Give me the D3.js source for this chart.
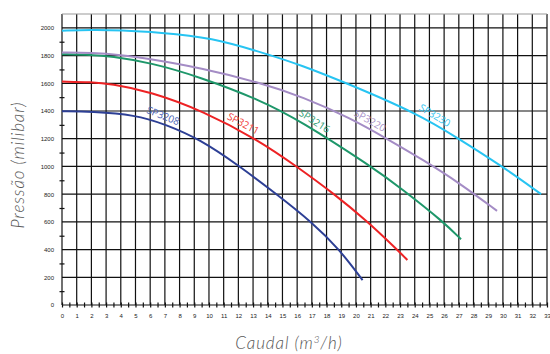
<!DOCTYPE html>
<html><head><meta charset="utf-8">
<script src="https://cdn.jsdelivr.net/npm/d3@7"></script>
<style>body{margin:0;background:#fff}</style>
</head><body><svg id="c" width="550" height="354"></svg>
<script>
// ---- data ----
const xTickValues = d3.range(0, 34);            // 0..33 m3/h
const yTickValues = d3.range(0, 2001, 200);     // 0..2000 mbar
const seriesNames = ["SP3208", "SP3211", "SP3216", "SP3220", "SP3230"];
const sp3208 = [[0,1398],[2,1396],[5,1372],[7,1305],[9.4,1195],[12,1008],[14.6,800],[17,598],[18.85,405],[20.45,180]];
const sp3211 = [[0,1612],[2,1608],[3.3,1596],[6,1540],[9.6,1400],[13.35,1191],[15.97,1000],[18.6,795],[20.7,610],[22.7,410],[23.5,325]];
const sp3216 = [[0,1810],[2,1806],[3.3,1795],[6,1750],[9.4,1645],[13.47,1480],[16.2,1330],[21.07,998],[23.1,840],[25.94,601],[27.15,474]];
const sp3220 = [[0,1822],[2,1820],[4,1805],[6,1775],[9.4,1712],[13.47,1605],[16.4,1500],[19.6,1350],[22.1,1200],[24.6,1045],[27.07,878],[29.6,679]];
const sp3230 = [[0,1980],[2,1985],[4,1983],[6.67,1966],[10.07,1933],[14.15,1805],[16.2,1733],[19.4,1600],[24.2,1380],[26.85,1210],[30,998],[32.6,800]];
const seriesData = [sp3208, sp3211, sp3216, sp3220, sp3230];
const labelFlow = [6.7, 12.1, 16.9, 20.7, 25.1];   // flow where each label sits on its curve

// ---- style ----
const lineColors  = ["#2d3f95", "#ed2224", "#1e976a", "#a48cc5", "#27c4f2"];
const labelColors = ["#4a5fb5", "#f03a36", "#2a9a70", "#a892c9", "#2ec4f0"];

const svg = d3.select("#c");
const x = d3.scaleLinear().domain([0, 33]).range([62, 547]);
const y = d3.scaleLinear().domain([0, 2100]).range([305, 14]);

// grid
const g = svg.append("g");
g.selectAll("line.v").data(xTickValues).join("line")
  .attr("x1", d => x(d)).attr("x2", d => x(d))
  .attr("y1", y(0)).attr("y2", y(2100))
  .attr("stroke", "#111").attr("stroke-width", 1.2);
g.selectAll("line.h").data(yTickValues.concat([2100])).join("line")
  .attr("x1", x(0)).attr("x2", x(33))
  .attr("y1", d => y(d)).attr("y2", d => y(d))
  .attr("stroke", d => d === 2100 ? "#999" : "#111").attr("stroke-width", 1.2);

// y axis labels
const yAxis = svg.append("g").attr("transform", `translate(${x(0)},0)`)
  .call(d3.axisLeft(y).tickValues(yTickValues).tickSize(0).tickPadding(8).tickFormat(d3.format("d")));
yAxis.select(".domain").remove();
yAxis.selectAll("text").attr("font-family", "Liberation Sans, Arial, sans-serif").attr("font-size", 6).attr("fill", "#222");

// y minor ticks
const yMinor = d3.range(100, 2100, 200);
[d3.axisLeft(y), d3.axisRight(y)].forEach(ax => {
  const a = svg.append("g").attr("transform", `translate(${x(0)},0)`)
    .call(ax.tickValues(yMinor).tickSize(2.5).tickFormat(""));
  a.select(".domain").remove();
  a.selectAll("line").attr("stroke", "#111").attr("stroke-width", 1.2);
});

// x axis labels
const xAxis = svg.append("g").attr("transform", `translate(0,${y(0)})`)
  .call(d3.axisBottom(x).tickValues(xTickValues).tickSize(0).tickPadding(9).tickFormat(d3.format("d")));
xAxis.select(".domain").remove();
xAxis.selectAll("text").attr("font-family", "Liberation Sans, Arial, sans-serif").attr("font-size", 6).attr("fill", "#222");

// x minor ticks
const xMinor = d3.range(0, 33.01, 0.5);
[d3.axisBottom(x), d3.axisTop(x)].forEach(ax => {
  const a = svg.append("g").attr("transform", `translate(0,${y(0)})`)
    .call(ax.tickValues(xMinor).tickSize(2.5).tickFormat(""));
  a.select(".domain").remove();
  a.selectAll("line").attr("stroke", "#111").attr("stroke-width", 1.2);
});

// curves
const line = d3.line().x(d => x(d[0])).y(d => y(d[1])).curve(d3.curveBasis);
svg.selectAll("path.curve").data(seriesData).join("path")
  .attr("class", "curve")
  .attr("d", line).attr("fill", "none")
  .attr("stroke", (d, i) => lineColors[i]).attr("stroke-width", 2);

// labels along curves
function valueAt(data, q) {
  for (let i = 1; i < data.length; i++) {
    if (q <= data[i][0]) {
      const t = (q - data[i-1][0]) / (data[i][0] - data[i-1][0]);
      return data[i-1][1] + t * (data[i][1] - data[i-1][1]);
    }
  }
  return data[data.length-1][1];
}
seriesNames.forEach((name, i) => {
  const q = labelFlow[i];
  const p = valueAt(seriesData[i], q);
  const p2 = valueAt(seriesData[i], q + 1);
  const ang = Math.atan2(y(p2) - y(p), x(q + 1) - x(q)) * 180 / Math.PI;
  svg.append("text")
    .attr("transform", `translate(${x(q)},${y(p)}) rotate(${ang})`)
    .attr("dy", -4)
    .attr("text-anchor", "middle")
    .attr("font-family", "Open Sans, sans-serif").attr("font-size", 10)
    .attr("fill", labelColors[i]).text(name);
});

// axis titles
svg.append("text")
  .attr("transform", `translate(24,${y(1010)}) rotate(-90)`)
  .attr("text-anchor", "middle")
  .attr("font-family", "Lato, sans-serif").attr("font-style", "italic").attr("font-weight", 300)
  .attr("font-size", 17).attr("letter-spacing", 0.9).attr("fill", "#555").text("Pressão (milibar)");
const xt = svg.append("text")
  .attr("x", 289).attr("y", 349).attr("text-anchor", "middle")
  .attr("font-family", "Lato, sans-serif").attr("font-style", "italic").attr("font-weight", 300)
  .attr("font-size", 17).attr("letter-spacing", 0.9).attr("fill", "#555");
xt.append("tspan").text("Caudal (m");
xt.append("tspan").attr("dy", -6).attr("font-size", 10).text("3");
xt.append("tspan").attr("dy", 6).text("/h)");
</script></body></html>
